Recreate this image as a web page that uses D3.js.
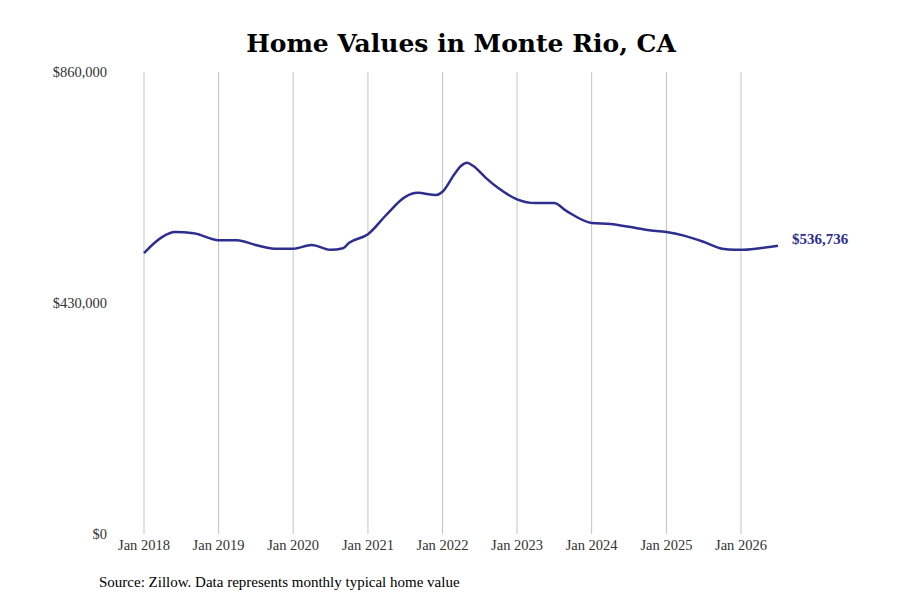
<!DOCTYPE html>
<html><head><meta charset="utf-8">
<script src="https://cdn.jsdelivr.net/npm/d3@7"></script>
<style>body{margin:0;background:#fff}svg{font-family:"Liberation Serif",serif}</style>
</head><body><svg id="c" width="900" height="600"></svg>
<script>
// estimated points
const dates = ["2018-01","2018-04","2018-06","2018-09","2019-01","2019-04","2019-07","2019-10","2020-01","2020-04","2020-07","2020-09","2020-10","2021-01","2021-04","2021-07","2021-09","2021-12","2022-01","2022-03","2022-04","2022-05","2022-06","2022-08","2022-10","2023-01","2023-04","2023-07","2023-09","2024-01","2024-04","2024-07","2024-10","2025-01","2025-04","2025-07","2025-10","2025-12","2026-01","2026-04","2026-07"];
const values = [523,553,562,560,547,547,538,531,531,538,529,532,542,558,594,627,635,631,637,670,685,691,685,663,644,623,616,616,601,579,577,572,566,562,555,544,531,529,529,532,536.736].map(v=>v*1000);
const xTicks = [2018,2019,2020,2021,2022,2023,2024,2025,2026];
const yTicks = [0,430000,860000];
const lastLabel = "$536,736";

const svg = d3.select("#c");
const parse = d3.timeParse("%Y-%m");
const data = dates.map((d,i)=>({d:parse(d),v:values[i]}));
const x = d3.scaleTime().domain([new Date(2018,0,1),new Date(2026,0,1)]).range([144,741]);
const y = d3.scaleLinear().domain([0,860000]).range([534,72]);

svg.append("text").attr("x",461).attr("y",52).attr("text-anchor","middle").attr("font-family","DejaVu Serif")
  .attr("font-size",25).attr("font-weight","bold").text("Home Values in Monte Rio, CA");

xTicks.forEach(t=>{
  const xx = x(new Date(t,0,1));
  svg.append("line").attr("x1",xx).attr("x2",xx).attr("y1",72).attr("y2",534).attr("stroke","#c4c4c4").attr("stroke-width",1);
  svg.append("text").attr("x",xx).attr("y",550).attr("text-anchor","middle").attr("font-size",14.5).attr("fill","#333").text("Jan "+t);
});
yTicks.forEach(t=>{
  svg.append("text").attr("x",107).attr("y",y(t)+5).attr("text-anchor","end").attr("font-size",14.5).attr("fill","#333").text(d3.format("$,")(t));
});

svg.append("path").datum(data).attr("fill","none").attr("stroke","#2e2e8f").attr("stroke-width",2.5)
  .attr("d",d3.line().x(d=>x(d.d)).y(d=>y(d.v)).curve(d3.curveMonotoneX));
const last = data[data.length-1];
svg.append("text").attr("x",x(last.d)+14).attr("y",y(last.v)-5).attr("font-size",15).attr("font-weight","bold")
  .attr("fill","#2e2e8f").attr("dominant-baseline","middle").text(lastLabel);

svg.append("text").attr("x",99).attr("y",587).attr("font-size",15).text("Source: Zillow. Data represents monthly typical home value");
</script></body></html>
